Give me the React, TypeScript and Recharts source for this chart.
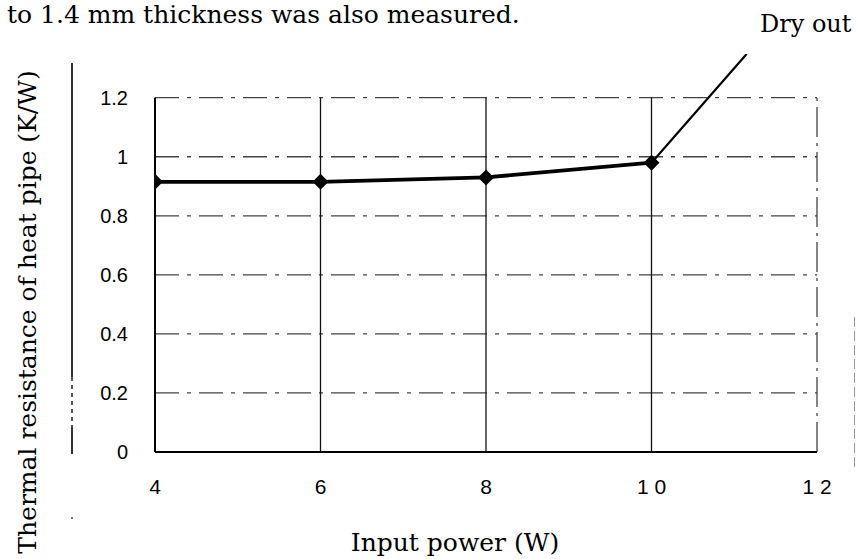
import React from 'react';
import { LineChart, Line, XAxis, YAxis, ReferenceLine } from 'recharts';

const inputPower = [4, 6, 8, 10];
const resistance = [0.915, 0.915, 0.93, 0.98];
const dryOutPower = [10, 11.15];
const dryOutResistance = [0.98, 1.348];
const xTicks = [4, 6, 8, 10, 12];
const xTickLabels = ['4', '6', '8', '1 0', '1 2'];
const yTicks = [0, 0.2, 0.4, 0.6, 0.8, 1, 1.2];
const yTickLabels = ['0', '0.2', '0.4', '0.6', '0.8', '1', '1.2'];
const hGrid = [0.2, 0.4, 0.6, 0.8, 1, 1.2];
const vGrid = [6, 8, 10];

const mainData = inputPower.map((x, i) => ({ x, r: resistance[i] }));
const dryData = dryOutPower.map((x, i) => ({ x, d: dryOutResistance[i] }));

const Diamond = (props: any) => {
  const { cx, cy } = props;
  if (cx == null || cy == null) return null;
  const s = 8;
  return (
    <path
      d={`M${cx},${cy - s} L${cx + s},${cy} L${cx},${cy + s} L${cx - s},${cy} Z`}
      fill="#000"
      stroke="none"
    />
  );
};

const sans = "'Liberation Sans', Arial, sans-serif";
const serif = "'DejaVu Serif', serif";

export default function App() {
  return (
    <div style={{ position: 'absolute', left: 0, top: 0, width: 856, height: 559, background: '#fff', overflow: 'hidden' }}>
      <LineChart
        width={856}
        height={559}
        margin={{ top: 54, right: 39, bottom: 0, left: 0 }}
      >
        <XAxis
          type="number"
          dataKey="x"
          domain={[4, 12]}
          ticks={xTicks}
          tickFormatter={(v: number) => xTickLabels[xTicks.indexOf(v)]}
          axisLine={false}
          tickLine={false}
          tickSize={0}
          tickMargin={27}
          height={107}
          tick={{ fontFamily: sans, fontSize: 21, fill: '#000' }}
          allowDataOverflow
        />
        <YAxis
          type="number"
          domain={[0, 1.348]}
          ticks={yTicks}
          tickFormatter={(v: number) => yTickLabels[yTicks.indexOf(v)]}
          axisLine={false}
          tickLine={false}
          tickSize={0}
          tickMargin={27}
          width={155}
          tick={{ fontFamily: sans, fontSize: 20, fill: '#000' }}
          allowDataOverflow
        />
        {hGrid.map((y) => (
          <ReferenceLine
            key={'h' + y}
            segment={[{ x: 4, y }, { x: 12, y }]}
            stroke="#444"
            strokeWidth={1.3}
            strokeDasharray="24 8 4 8"
            ifOverflow="visible"
          />
        ))}
        {vGrid.map((x) => (
          <ReferenceLine
            key={'v' + x}
            segment={[{ x, y: 0 }, { x, y: 1.2 }]}
            stroke="#111"
            strokeWidth={1.3}
            ifOverflow="visible"
          />
        ))}
        <ReferenceLine
          segment={[{ x: 12, y: 0 }, { x: 12, y: 1.2 }]}
          stroke="#444"
          strokeWidth={1.3}
          strokeDasharray="30 6 3 6"
          ifOverflow="visible"
        />
        <ReferenceLine
          segment={[{ x: 4, y: 0 }, { x: 4, y: 1.2 }]}
          stroke="#000"
          strokeWidth={2}
          ifOverflow="visible"
        />
        <ReferenceLine
          segment={[{ x: 4, y: 0 }, { x: 12, y: 0 }]}
          stroke="#000"
          strokeWidth={2.2}
          ifOverflow="visible"
        />
        <Line
          data={dryData}
          dataKey="d"
          stroke="#000"
          strokeWidth={2.2}
          dot={false}
          activeDot={false}
          isAnimationActive={false}
        />
        <Line
          data={mainData}
          dataKey="r"
          stroke="#000"
          strokeWidth={3.8}
          dot={<Diamond />}
          activeDot={false}
          isAnimationActive={false}
        />
      </LineChart>
      <div style={{ position: 'absolute', left: 71, top: 63, width: 1.5, height: 314, background: '#333' }} />
      <div style={{ position: 'absolute', left: 71, top: 377, width: 1.5, height: 50, backgroundImage: 'linear-gradient(#555 50%, transparent 50%)', backgroundSize: '1.5px 8px' }} />
      <div style={{ position: 'absolute', left: 71, top: 427, width: 1.5, height: 27, background: '#333' }} />
      <div style={{ position: 'absolute', left: 71, top: 517, width: 1.5, height: 2, background: '#777' }} />
      <div style={{ position: 'absolute', left: 854, top: 317, width: 1, height: 150, backgroundImage: 'linear-gradient(#999 70%, transparent 70%)', backgroundSize: '1px 14px' }} />
      <div style={{ position: 'absolute', left: 7, top: 2, fontFamily: serif, fontSize: 25, lineHeight: '25px', whiteSpace: 'nowrap', color: '#000' }}>
        to 1.4 mm thickness was also measured.
      </div>
      <div style={{ position: 'absolute', left: 760, top: 12, fontFamily: serif, fontSize: 24, lineHeight: '24px', whiteSpace: 'nowrap', color: '#000' }}>
        Dry out
      </div>
      <div style={{ position: 'absolute', left: 255, top: 530, width: 400, textAlign: 'center', fontFamily: serif, fontSize: 25, lineHeight: '25px', whiteSpace: 'nowrap', color: '#000' }}>
        Input power (W)
      </div>
      <div
        style={{
          position: 'absolute',
          left: 27,
          top: 312,
          transform: 'translate(-50%, -50%) rotate(-90deg)',
          fontFamily: serif,
          fontSize: 25,
          lineHeight: '25px',
          whiteSpace: 'nowrap',
          color: '#000',
        }}
      >
        Thermal resistance of heat pipe (K/W)
      </div>
    </div>
  );
}
